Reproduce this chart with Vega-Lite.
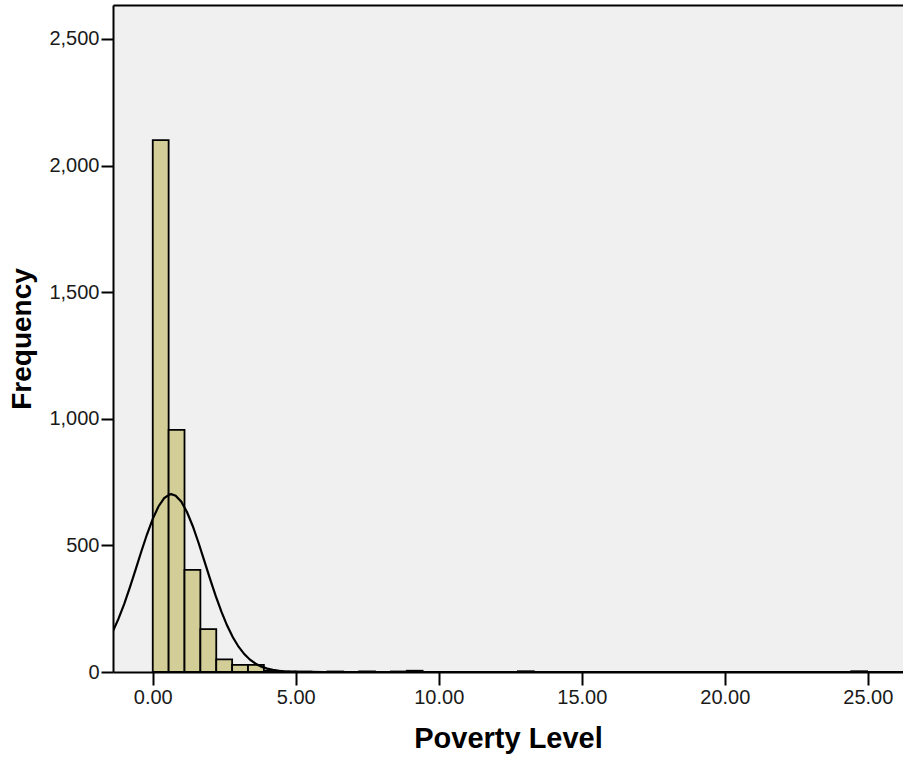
{
  "$schema": "https://vega.github.io/schema/vega-lite/v6.json",
  "width": 790,
  "height": 667,
  "autosize": {"type": "none"},
  "padding": {"left": 113, "top": 5, "right": 0, "bottom": 90},
  "background": "white",
  "config": {
    "view": {"fill": "#F0F0F0", "stroke": null},
    "axis": {"grid": false}
  },
  "layer": [
    {
      "data": {
        "values": [
          {"bin_start": 0.0, "bin_end": 0.555, "count": 2100},
          {"bin_start": 0.555, "bin_end": 1.11, "count": 956},
          {"bin_start": 1.11, "bin_end": 1.665, "count": 403},
          {"bin_start": 1.665, "bin_end": 2.22, "count": 169},
          {"bin_start": 2.22, "bin_end": 2.775, "count": 50},
          {"bin_start": 2.775, "bin_end": 3.33, "count": 28},
          {"bin_start": 3.33, "bin_end": 3.885, "count": 28},
          {"bin_start": 3.885, "bin_end": 4.44, "count": 5},
          {"bin_start": 4.44, "bin_end": 4.995, "count": 2},
          {"bin_start": 4.995, "bin_end": 5.55, "count": 1},
          {"bin_start": 6.105, "bin_end": 6.66, "count": 2},
          {"bin_start": 7.215, "bin_end": 7.77, "count": 2},
          {"bin_start": 8.325, "bin_end": 8.88, "count": 2},
          {"bin_start": 8.88, "bin_end": 9.435, "count": 5},
          {"bin_start": 12.765, "bin_end": 13.32, "count": 3},
          {"bin_start": 24.42, "bin_end": 24.975, "count": 3}
        ]
      },
      "mark": {"type": "rect", "fill": "#D3CE97", "stroke": "black", "strokeWidth": 1.8},
      "encoding": {
        "x": {
          "field": "bin_start",
          "type": "quantitative",
          "scale": {"domain": [-1.39, 26.23], "nice": false, "zero": false},
          "axis": {
            "values": [0, 5, 10, 15, 20, 25],
            "format": ".2f",
            "domainColor": "black",
            "domainWidth": 2,
            "tickColor": "black",
            "tickWidth": 2,
            "tickSize": 13,
            "labelFont": "Liberation Sans",
            "labelFontSize": 20,
            "labelColor": "#1a1a1a",
            "labelPadding": 2,
            "title": "Poverty Level",
            "titleFont": "Liberation Sans",
            "titleFontSize": 29,
            "titleFontWeight": "bold",
            "titleColor": "black",
            "titlePadding": 17
          }
        },
        "x2": {"field": "bin_end"},
        "y": {
          "field": "count",
          "type": "quantitative",
          "scale": {"domain": [0, 2634], "nice": false},
          "axis": {
            "values": [0, 500, 1000, 1500, 2000, 2500],
            "format": ",.0f",
            "domainColor": "black",
            "domainWidth": 2,
            "tickColor": "black",
            "tickWidth": 2,
            "tickSize": 12,
            "labelFont": "Liberation Sans",
            "labelFontSize": 20,
            "labelColor": "#1a1a1a",
            "labelPadding": 2,
            "title": "Frequency",
            "titleFont": "Liberation Sans",
            "titleFontSize": 28,
            "titleFontWeight": "bold",
            "titleColor": "black",
            "titlePadding": 12
          }
        },
        "y2": {"datum": 0}
      }
    },
    {
      "data": {
        "values": [
          {"x": -1.39, "y": 161.5},
          {"x": -1.2, "y": 209.7},
          {"x": -1.0, "y": 268.4},
          {"x": -0.8, "y": 334.2},
          {"x": -0.6, "y": 404.4},
          {"x": -0.4, "y": 475.7},
          {"x": -0.2, "y": 543.9},
          {"x": 0.0, "y": 604.7},
          {"x": 0.2, "y": 653.6},
          {"x": 0.4, "y": 686.6},
          {"x": 0.6, "y": 701.4},
          {"x": 0.65, "y": 702},
          {"x": 0.8, "y": 696.4},
          {"x": 1.0, "y": 672.3},
          {"x": 1.2, "y": 630.9},
          {"x": 1.4, "y": 575.6},
          {"x": 1.6, "y": 510.4},
          {"x": 1.8, "y": 440.1},
          {"x": 2.0, "y": 368.8},
          {"x": 2.2, "y": 300.5},
          {"x": 2.4, "y": 238.1},
          {"x": 2.6, "y": 183.4},
          {"x": 2.8, "y": 137.2},
          {"x": 3.0, "y": 99.9},
          {"x": 3.2, "y": 70.7},
          {"x": 3.4, "y": 48.6},
          {"x": 3.6, "y": 32.5},
          {"x": 3.8, "y": 21.1},
          {"x": 4.0, "y": 13.4},
          {"x": 4.2, "y": 8.2},
          {"x": 4.4, "y": 4.9},
          {"x": 4.6, "y": 2.8},
          {"x": 4.8, "y": 1.6},
          {"x": 5.0, "y": 0.9},
          {"x": 5.5, "y": 0.17},
          {"x": 6.0, "y": 0.03},
          {"x": 7.0, "y": 0},
          {"x": 26.23, "y": 0}
        ]
      },
      "mark": {"type": "line", "color": "black", "strokeWidth": 2.2, "clip": true},
      "encoding": {
        "x": {
          "field": "x",
          "type": "quantitative",
          "axis": {
            "orient": "top",
            "labels": false,
            "ticks": false,
            "title": null,
            "domainColor": "black",
            "domainWidth": 2
          }
        },
        "y": {"field": "y", "type": "quantitative"}
      }
    }
  ],
  "resolve": {"axis": {"x": "independent"}}
}
